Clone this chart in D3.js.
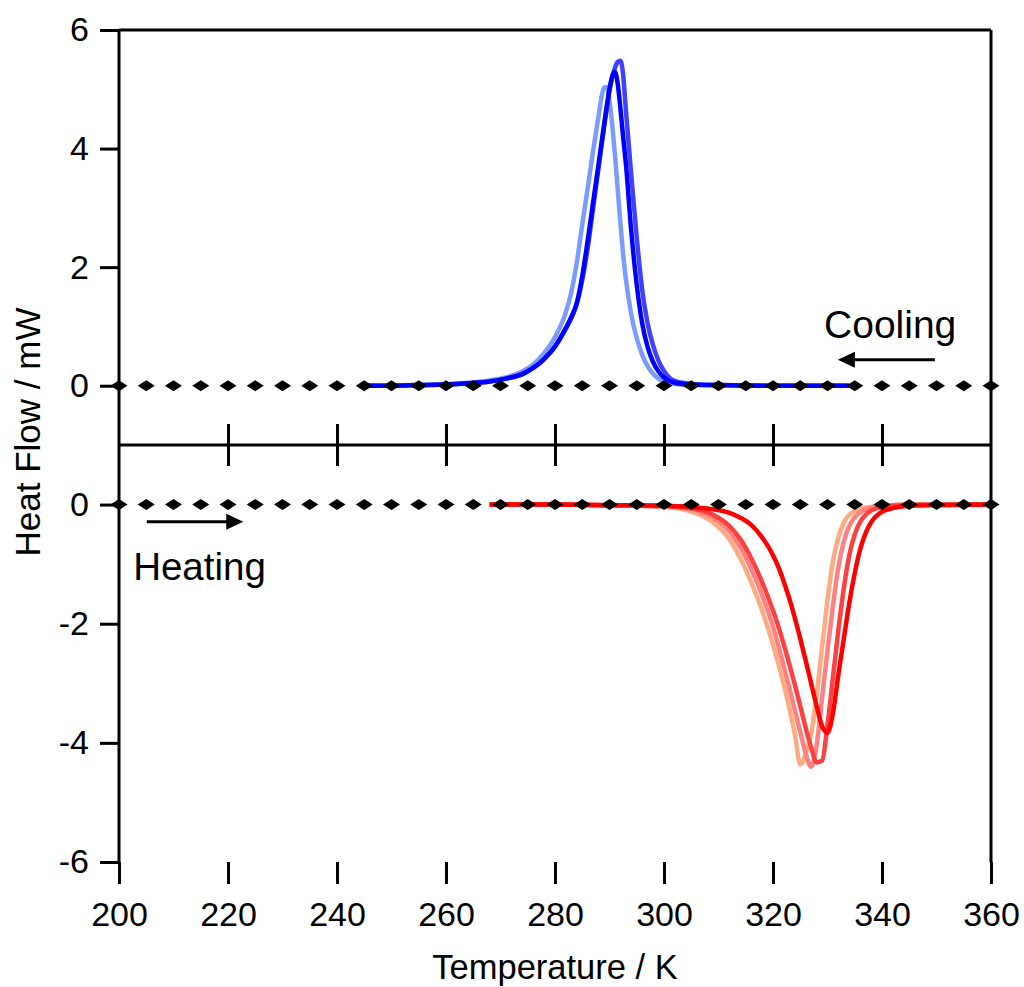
<!DOCTYPE html>
<html>
<head>
<meta charset="utf-8">
<script src="https://cdn.jsdelivr.net/npm/d3@7"></script>
<style>
  body { margin: 0; background: #fff; }
  text { font-family: "Liberation Sans", Arial, sans-serif; fill: #000; }
</style>
</head>
<body>
<script>
const svgWidth = 1024,
    svgHeight = 987;

// cooling runs (top panel), shared temperature grid
const coolT = [245, 250, 255, 260, 264, 268, 271, 274, 276, 278, 280, 282, 283, 284, 285, 286, 287, 288, 288.5, 289, 289.5, 290, 290.5, 291, 291.5, 292, 292.5, 293, 294, 295, 296, 297, 298, 299, 300, 302, 305, 310, 320, 334];
const coolA = [0, 0, 0.01, 0.03, 0.05, 0.09, 0.14, 0.24, 0.36, 0.55, 0.82, 1.24, 1.58, 2.08, 2.72, 3.33, 3.97, 4.55, 4.85, 5.03, 5.04, 4.80, 4.40, 3.90, 3.32, 2.75, 2.22, 1.80, 1.20, 0.80, 0.52, 0.33, 0.20, 0.12, 0.07, 0.03, 0.015, 0.01, 0, 0];
const coolB = [0, 0, 0.01, 0.02, 0.04, 0.07, 0.12, 0.19, 0.30, 0.45, 0.66, 0.96, 1.14, 1.38, 1.78, 2.32, 3.00, 3.68, 4.02, 4.36, 4.67, 4.98, 5.20, 5.36, 5.46, 5.48, 5.25, 4.65, 3.55, 2.50, 1.62, 1.05, 0.68, 0.42, 0.25, 0.08, 0.03, 0.01, 0, 0];
const coolC = [0, 0, 0.01, 0.02, 0.04, 0.07, 0.12, 0.20, 0.30, 0.45, 0.66, 0.98, 1.16, 1.40, 1.85, 2.45, 3.10, 3.74, 4.07, 4.40, 4.72, 5.00, 5.22, 5.29, 5.10, 4.68, 4.20, 3.75, 2.60, 1.70, 1.05, 0.65, 0.40, 0.24, 0.14, 0.05, 0.02, 0.01, 0, 0];

// heating runs (bottom panel), shared temperature grid
const heatT = [268, 280, 290, 295, 300, 303, 306, 309, 312, 314, 316, 318, 320, 321, 322, 323, 324, 325, 326, 327, 328, 329, 330, 331, 332, 333, 334, 335, 336, 337, 338, 340, 342, 345, 350, 360];
const heatA = [0, 0, -0.01, -0.02, -0.04, -0.07, -0.15, -0.30, -0.58, -0.90, -1.30, -1.78, -2.35, -2.68, -3.03, -3.42, -3.85, -4.36, -4.18, -3.85, -3.20, -2.40, -1.60, -0.95, -0.55, -0.30, -0.17, -0.11, -0.07, -0.05, -0.04, -0.02, -0.01, 0, 0, 0];
const heatB = [0, 0, -0.01, -0.02, -0.03, -0.05, -0.10, -0.22, -0.45, -0.72, -1.08, -1.52, -2.05, -2.38, -2.72, -3.08, -3.45, -3.82, -4.18, -4.40, -4.05, -3.25, -2.45, -1.70, -1.05, -0.62, -0.36, -0.21, -0.13, -0.08, -0.05, -0.02, -0.01, 0, 0, 0];
const heatC = [0, 0, -0.01, -0.01, -0.02, -0.04, -0.08, -0.17, -0.36, -0.58, -0.90, -1.30, -1.78, -2.05, -2.35, -2.68, -3.02, -3.38, -3.75, -4.08, -4.33, -4.30, -3.70, -2.90, -2.10, -1.40, -0.85, -0.50, -0.29, -0.17, -0.10, -0.04, -0.02, -0.01, 0, 0];
const heatD = [0, 0, -0.01, -0.01, -0.02, -0.03, -0.05, -0.08, -0.14, -0.22, -0.34, -0.55, -0.85, -1.05, -1.30, -1.58, -1.90, -2.25, -2.62, -3.00, -3.38, -3.72, -3.83, -3.50, -2.85, -2.25, -1.65, -1.15, -0.75, -0.48, -0.30, -0.12, -0.06, -0.02, -0.01, 0];

const coolColors = ["#7b9bff", "#4040ff", "#0000ff"];
const heatColors = ["#ffaa80", "#ff8080", "#ff4040", "#ff0000"];

// baseline markers every 5 K
const markerT = d3.range(200, 361, 5);
const xTicks = [200, 220, 240, 260, 280, 300, 320, 340, 360];
const topTicks = [0, 2, 4, 6];
const botTicks = [-6, -4, -2, 0];

const plotLeft = 119, plotRight = 991, plotTop = 30, plotMid = 445, plotBottom = 862;

var x = d3.scaleLinear().domain([200, 360]).range([plotLeft, plotRight]);
var yTop = d3.scaleLinear().domain([-1, 6]).range([plotMid, plotTop]);
var yBot = d3.scaleLinear().domain([-6, 1]).range([plotBottom, plotMid]);

var svg = d3.select("body").append("svg")
    .attr("width", svgWidth)
    .attr("height", svgHeight);

function drawCurves(g, T, series, colors, y) {
    var line = d3.line()
        .x(function (d) { return x(d[0]); })
        .y(function (d) { return y(d[1]); })
        .curve(d3.curveMonotoneX);
    series.forEach(function (vals, i) {
        g.append("path")
            .datum(T.map(function (t, j) { return [t, vals[j]]; }))
            .attr("d", line)
            .attr("fill", "none")
            .attr("stroke", colors[i])
            .attr("stroke-width", 4.5)
            .attr("stroke-linejoin", "round");
    });
}

drawCurves(svg.append("g"), coolT, [coolA, coolB, coolC], coolColors, yTop);
drawCurves(svg.append("g"), heatT, [heatA, heatB, heatC, heatD], heatColors, yBot);

// diamond markers on the zero lines
var diamond = "M-8.5,0L0,-5.5L8.5,0L0,5.5Z";
[yTop, yBot].forEach(function (y) {
    svg.append("g").selectAll("path")
        .data(markerT)
        .enter().append("path")
        .attr("d", diamond)
        .attr("transform", function (d) { return "translate(" + x(d) + "," + y(0) + ")"; })
        .attr("fill", "#000");
});

// frame
var frame = svg.append("g").attr("stroke", "#000").attr("stroke-width", 3).attr("fill", "none");
frame.append("line").attr("x1", plotLeft).attr("x2", plotRight).attr("y1", plotTop).attr("y2", plotTop);
frame.append("line").attr("x1", plotRight).attr("x2", plotRight).attr("y1", plotTop).attr("y2", plotBottom);
frame.append("line").attr("x1", plotLeft).attr("x2", plotLeft).attr("y1", plotTop).attr("y2", plotBottom);
frame.append("line").attr("x1", plotLeft).attr("x2", plotRight).attr("y1", plotMid).attr("y2", plotMid);

function styleAxis(g) {
    g.select(".domain").remove();
    g.selectAll(".tick line").attr("stroke", "#000").attr("stroke-width", 3);
    g.selectAll(".tick text").attr("font-size", 34).attr("fill", "#000")
        .style("font-family", "'Liberation Sans', Arial, sans-serif");
}

svg.append("g")
    .attr("transform", "translate(0," + plotBottom + ")")
    .call(d3.axisBottom(x).tickValues(xTicks).tickSize(22).tickPadding(18).tickFormat(d3.format("d")))
    .call(styleAxis);

// ticks crossing the divider
var inner = xTicks.slice(1, -1);
svg.append("g")
    .attr("transform", "translate(0," + plotMid + ")")
    .call(d3.axisBottom(x).tickValues(inner).tickSize(21).tickFormat(""))
    .call(styleAxis);
svg.append("g")
    .attr("transform", "translate(0," + plotMid + ")")
    .call(d3.axisTop(x).tickValues(inner).tickSize(21).tickFormat(""))
    .call(styleAxis);

svg.append("g")
    .attr("transform", "translate(" + plotLeft + ",0)")
    .call(d3.axisLeft(yTop).tickValues(topTicks).tickSize(19).tickPadding(11).tickFormat(d3.format("d")))
    .call(styleAxis);
svg.append("g")
    .attr("transform", "translate(" + plotLeft + ",0)")
    .call(d3.axisLeft(yBot).tickValues(botTicks).tickSize(19).tickPadding(11).tickFormat(function (d) { return String(d); }))
    .call(styleAxis);

// axis titles
svg.append("text")
    .attr("x", (plotLeft + plotRight) / 2)
    .attr("y", 979)
    .attr("text-anchor", "middle")
    .attr("font-size", 34.5)
    .text("Temperature / K");

svg.append("text")
    .attr("transform", "translate(40,432) rotate(-90)")
    .attr("text-anchor", "middle")
    .attr("font-size", 35)
    .text("Heat Flow / mW");

// annotations
function arrow(x1, x2, yPix) {
    var dir = x2 > x1 ? 1 : -1;
    svg.append("line")
        .attr("x1", x1).attr("x2", x2 - dir * 14)
        .attr("y1", yPix).attr("y2", yPix)
        .attr("stroke", "#000").attr("stroke-width", 3);
    svg.append("path")
        .attr("d", "M" + x2 + "," + yPix + "L" + (x2 - dir * 17) + "," + (yPix - 8) + "L" + (x2 - dir * 17) + "," + (yPix + 8) + "Z")
        .attr("fill", "#000");
}

svg.append("text")
    .attr("x", x(341.5))
    .attr("y", yTop(0.81))
    .attr("text-anchor", "middle")
    .attr("font-size", 39)
    .text("Cooling");
arrow(x(349.7), x(331.9), yTop(0.44));

svg.append("text")
    .attr("x", x(202.6))
    .attr("y", yBot(-1.26))
    .attr("font-size", 38.5)
    .text("Heating");
arrow(x(205.1), x(222.8), yBot(-0.29));
</script>
</body>
</html>
